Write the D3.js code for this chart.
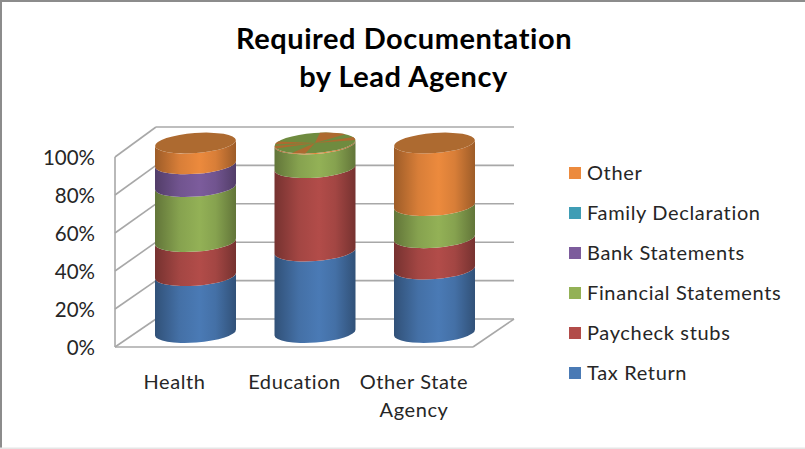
<!DOCTYPE html>
<html><head><meta charset="utf-8">
<script src="https://cdnjs.cloudflare.com/ajax/libs/d3/7.8.5/d3.min.js"></script>
<style>html,body{margin:0;padding:0;background:#fff;overflow:hidden}svg{display:block}text{font-family:Lato,"Open Sans",sans-serif;fill:#262626}</style>
</head><body><svg width="805" height="449"></svg>
<script>
const categories = ["Health","Education","Other State Agency"];
const seriesNames = ["Tax Return","Paycheck stubs","Financial Statements","Bank Statements","Family Declaration","Other"];
const taxReturn = [30,43,33.5];
const paycheckStubs = [18,44,16.5];
const financialStatements = [29,12.5,17];
const bankStatements = [12,0,0];
const familyDeclaration = [0,0,0];
const other = [11,0.5,33];
const yTicks = [0,20,40,60,80,100];
const seriesColors = ["#4a7ab5","#b24c49","#93b156","#7c5c9c","#3f9db5","#ec8a3d"];
const educationTopWedges = [[8,50],[72,90],[195,215],[255,270],[280,295]];

const series = [taxReturn,paycheckStubs,financialStatements,bankStatements,familyDeclaration,other];
const svg = d3.select("svg");
const defs = svg.append("defs");
seriesColors.forEach((c,i)=>{
  const g = defs.append("linearGradient").attr("id","g"+i);
  const dark = d3.color(c).darker(1.15);
  const mid = d3.color(c).darker(0.25);
  [[0,dark],[0.3,mid],[0.55,c],[0.75,mid],[1,dark]].forEach(([o,col])=>g.append("stop").attr("offset",o).attr("stop-color",col));
});

svg.append("rect").attr("width",805).attr("height",449).attr("fill","#fff");
svg.append("rect").attr("x",0).attr("y",0).attr("width",2).attr("height",449).attr("fill","#8c8c8c");
svg.append("rect").attr("x",0).attr("y",0).attr("width",805).attr("height",2).attr("fill","#8c8c8c");
svg.append("rect").attr("x",0).attr("y",447.5).attr("width",805).attr("height",1.5).attr("fill","#e6e6e6");

const yFront = d3.scaleLinear().domain([0,100]).range([347,157]);
const yBack = d3.scaleLinear().domain([0,100]).range([319,127]);
const yCyl = d3.scaleLinear().domain([0,100]).range([332.5,143]);
const xFront = [115,473], xBack = [156,514];
const grid = svg.append("g").attr("stroke","#a8a8a8").attr("stroke-width",1.6).attr("fill","none");
yTicks.forEach(t=>{
  grid.append("line").attr("x1",xFront[0]).attr("y1",yFront(t)).attr("x2",xBack[0]).attr("y2",yBack(t));
  grid.append("line").attr("x1",xBack[0]).attr("y1",yBack(t)).attr("x2",xBack[1]).attr("y2",yBack(t));
});
grid.append("line").attr("x1",xFront[0]).attr("y1",yFront(0)).attr("x2",xFront[0]).attr("y2",yFront(100));
grid.append("line").attr("x1",xFront[0]).attr("y1",yFront(0)).attr("x2",xFront[1]).attr("y2",yFront(0));
grid.append("line").attr("x1",xFront[1]).attr("y1",yFront(0)).attr("x2",xBack[1]).attr("y2",yBack(0));

yTicks.forEach(t=>svg.append("text").attr("x",95).attr("y",yFront(t)+1).attr("dy","0.35em").attr("text-anchor","end").attr("font-size",20.5).text(t+"%"));

const xCyl = d3.scalePoint().domain(categories).range([195.5,434.5]);
const rx = 40.5, ry = 10, rot = -4.2;
const dy = rx*Math.sin(-rot*Math.PI/180);
const segPath = (cx,y0,y1)=>`M${cx-rx},${y0+dy}A${rx},${ry} ${rot} 0 0 ${cx+rx},${y0-dy}L${cx+rx},${y1-dy}A${rx},${ry} ${rot} 0 1 ${cx-rx},${y1+dy}Z`;
categories.forEach((cat,ci)=>{
  const cx = xCyl(cat);
  let acc = 0;
  series.forEach((vals,si)=>{
    const v = vals[ci];
    if(!v) return;
    svg.append("path").attr("d",segPath(cx,yCyl(acc),yCyl(acc+v))).attr("fill",`url(#g${si})`);
    acc += v;
  });
  const topG = svg.append("g").attr("transform",`translate(${cx},${yCyl(acc)}) rotate(${rot}) scale(1,${ry/rx})`);
  if(cat==="Education"){
    topG.append("circle").attr("r",rx).attr("fill","#6f8b3f");
    const arc = d3.arc().innerRadius(0).outerRadius(rx);
    educationTopWedges.forEach(w=>topG.append("path").attr("d",arc({startAngle:w[0]*Math.PI/180,endAngle:w[1]*Math.PI/180})).attr("fill","#ad6a30"));
  } else {
    topG.append("circle").attr("r",rx).attr("fill","#ad6a30");
  }
});

const labelY = 383, lineH = 28;
categories.forEach(cat=>{
  const words = cat==="Other State Agency" ? ["Other State","Agency"] : [cat];
  const lx = {"Health":174.5,"Education":294.5,"Other State Agency":414}[cat];
  words.forEach((w,i)=>svg.append("text").attr("x",lx).attr("y",labelY+i*lineH-1).attr("dy","0.35em").attr("text-anchor","middle").attr("font-size",20).attr("letter-spacing",0.6).text(w));
});

const legendOrder = d3.range(seriesNames.length).reverse();
const yLegend = d3.scalePoint().domain(legendOrder).range([173,373]);
legendOrder.forEach(i=>{
  svg.append("rect").attr("x",569).attr("y",yLegend(i)-6).attr("width",12).attr("height",12).attr("fill",seriesColors[i]);
  svg.append("text").attr("x",587).attr("y",yLegend(i)).attr("dy","0.35em").attr("font-size",20).attr("letter-spacing",0.65).text(seriesNames[i]);
});

[["Required Documentation",404,39],["by Lead Agency",403.5,77]].forEach(([t,x,y])=>
  svg.append("text").attr("x",x).attr("y",y).attr("dy","0.35em").attr("text-anchor","middle").attr("font-size",29).attr("letter-spacing",0.55).attr("font-weight",700).style("fill","#000").text(t));
</script></body></html>
